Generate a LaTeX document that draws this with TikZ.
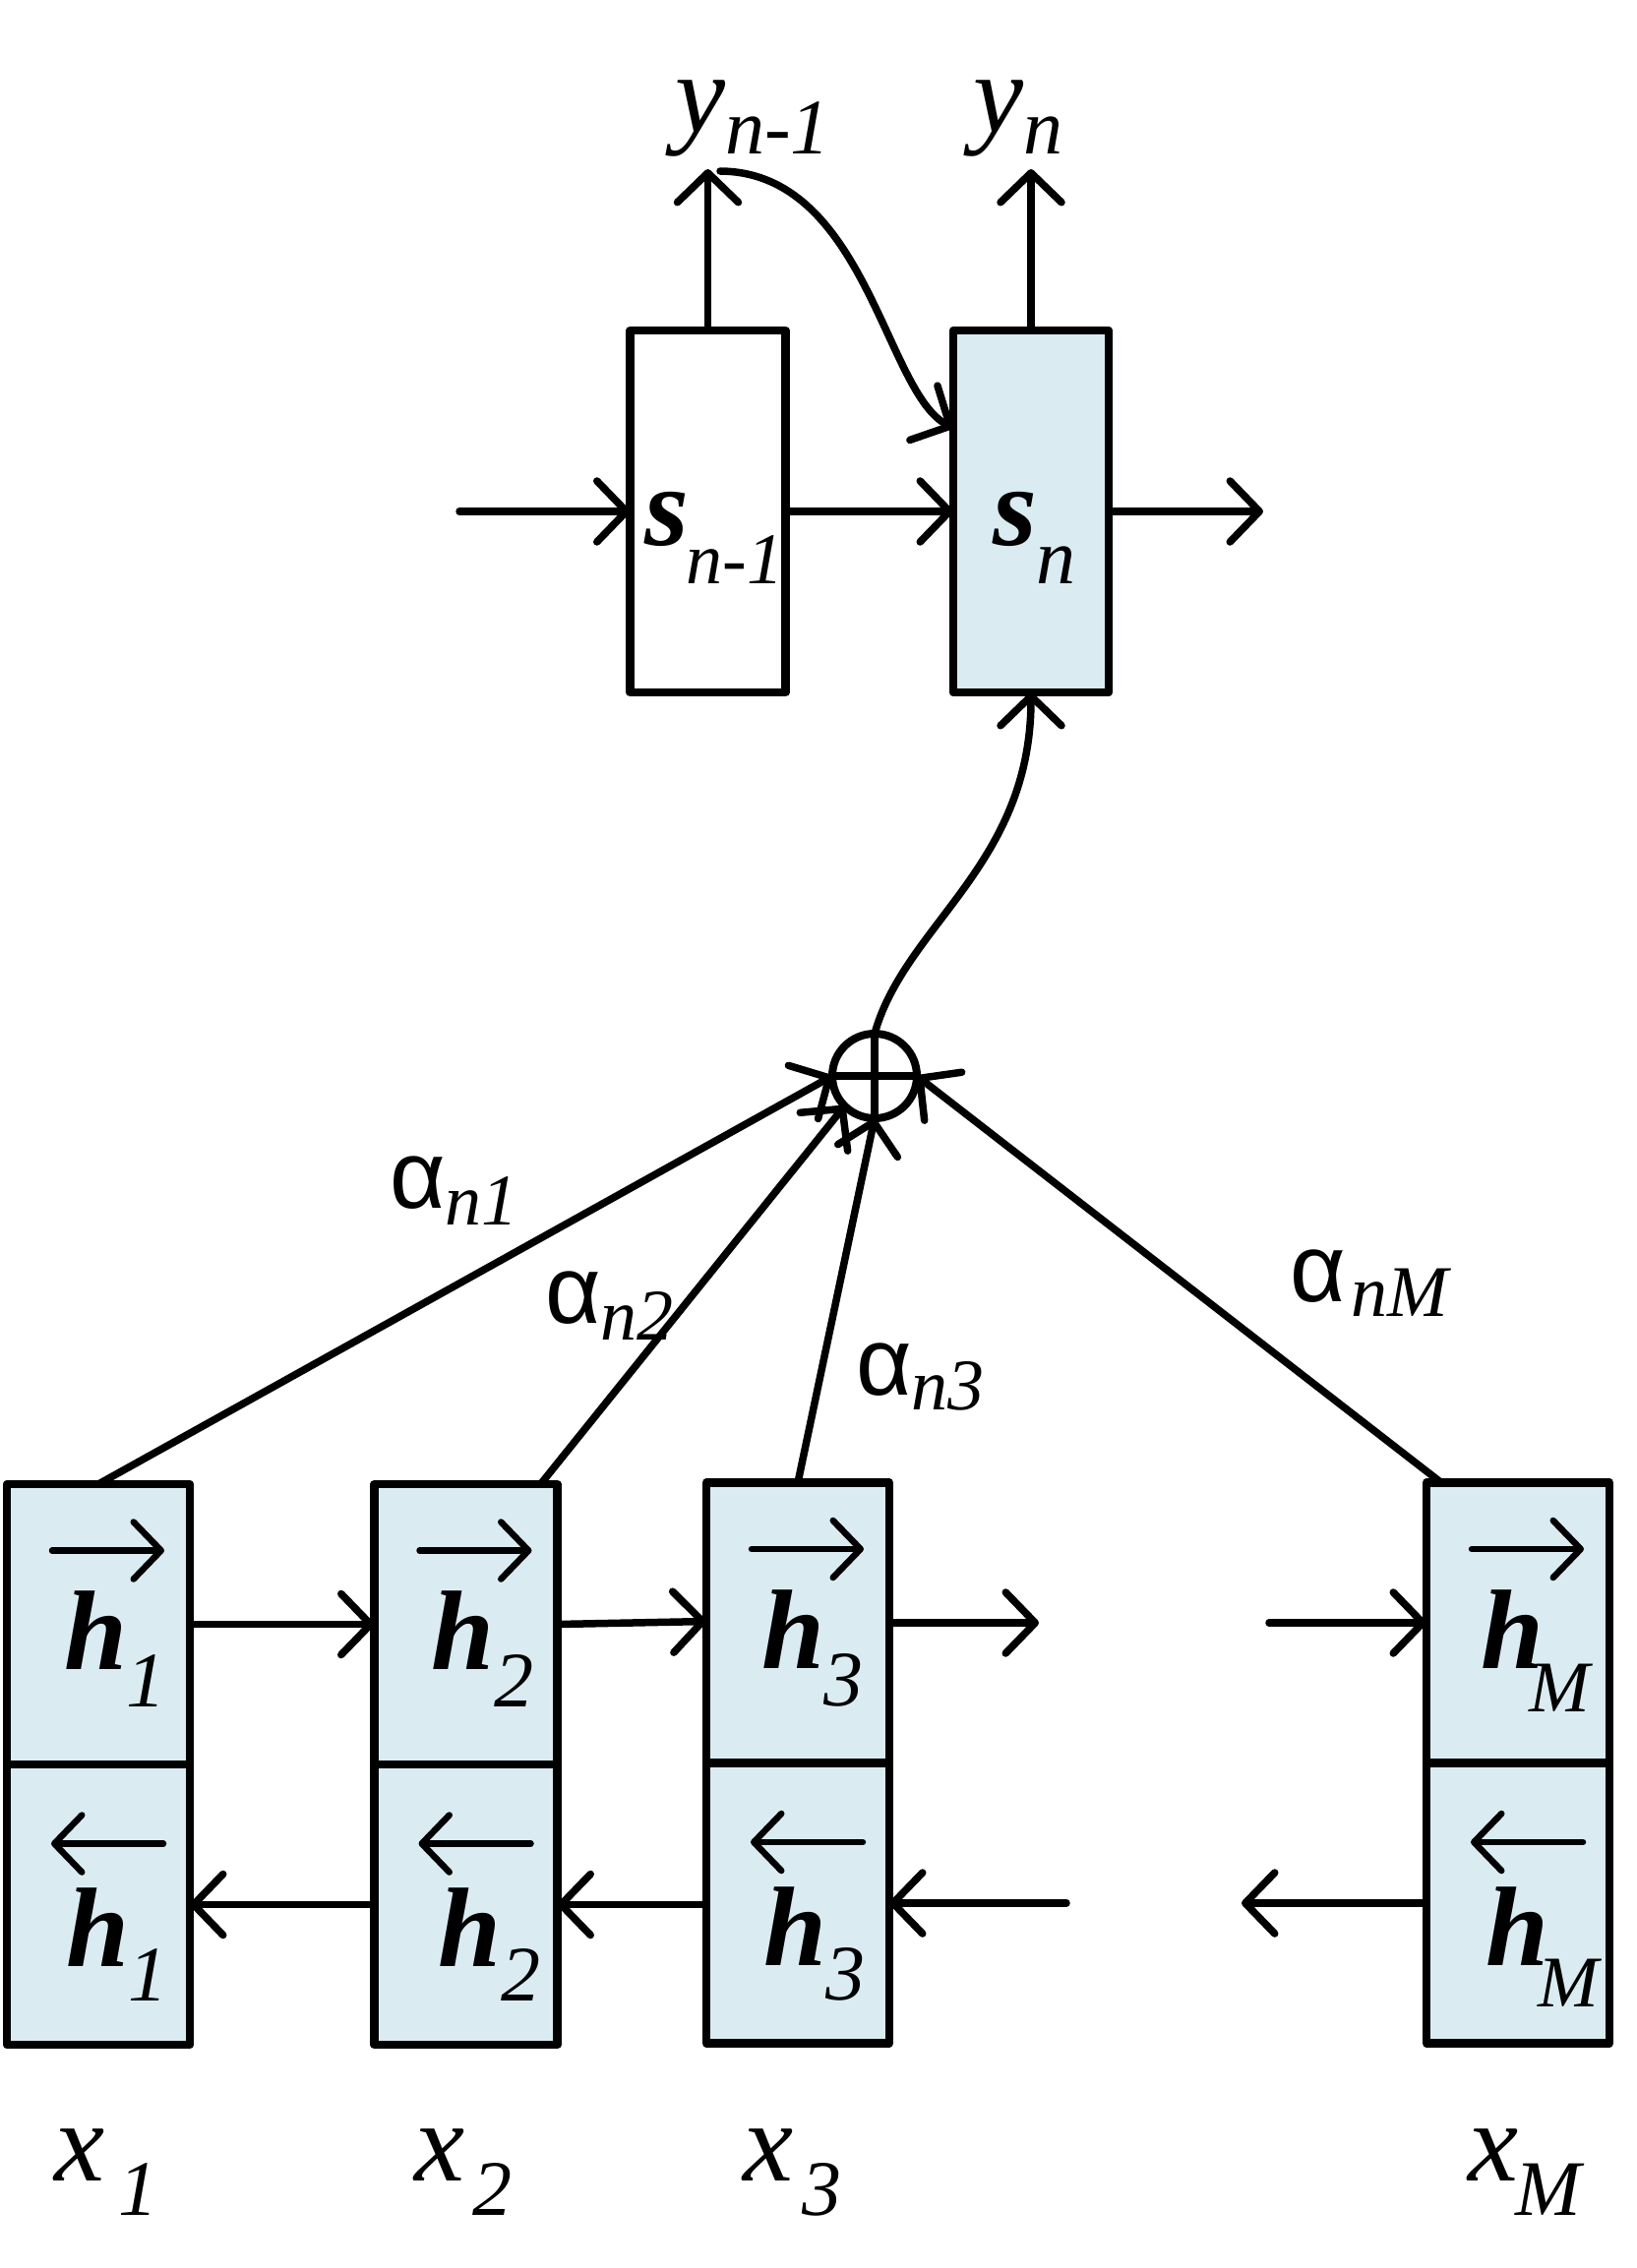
\documentclass[tikz,border=0pt]{standalone}
\usepackage{fontspec}
\setmainfont{Liberation Serif}
\newfontfamily\alphafont{Liberation Sans}
\usetikzlibrary{arrows.meta,calc}
\definecolor{boxblue}{RGB}{218,236,242}
\newcommand\BigF{\fontsize{115}{115}\selectfont}
\newcommand\SubF{\fontsize{80}{80}\selectfont}
\newcommand\SubS{\fontsize{74}{74}\selectfont}
\newcommand\SubA{\fontsize{74}{74}\selectfont\rmfamily\itshape}
\newcommand\AlF{\fontsize{98}{98}\selectfont\alphafont}
\begin{document}
\begin{tikzpicture}[x=1pt,y=-1pt,
  hbox/.style={draw, line width=8.5pt, line join=round, fill=boxblue, minimum width=186pt, minimum height=285pt, inner sep=0pt, outer sep=0pt},
  sbox/.style={draw, line width=8.5pt, line join=round, minimum width=158pt, minimum height=368pt, inner sep=0pt, outer sep=0pt},
  arr/.style={line width=7.5pt, line cap=round, -{Straight Barb[length=30pt,width=62pt,round]}},
  vec/.style={line width=6.5pt, line cap=round, -{Straight Barb[length=28pt,width=58pt,round]}},
  txt/.style={inner sep=0pt, outer sep=0pt, anchor=base west},
]
\useasboundingbox (0,0) rectangle (1663,2306);

% decoder states
\node[sbox, fill=white] (sp) at (719.5,520) {};
\node[sbox, fill=boxblue] (sn) at (1048,520) {};

% encoder boxes
\node[hbox] (hf1) at (100,1651.5) {};
\node[hbox] (hb1) at (100,1936.5) {};
\node[hbox] (hf2) at (473.5,1651.5) {};
\node[hbox] (hb2) at (473.5,1936.5) {};
\node[hbox] (hf3) at (811,1650) {};
\node[hbox] (hb3) at (811,1935) {};
\node[hbox] (hfM) at (1543,1650) {};
\node[hbox] (hbM) at (1543,1935) {};

% sum node
\node[draw, circle, line width=8pt, minimum size=86pt, inner sep=0pt, outer sep=0pt] (sum) at (889,1094) {};
\draw[line width=7.5pt] (sum.north) -- (sum.south) (sum.west) -- (sum.east);

% free ends
\coordinate (yt1) at (719.5,172);
\coordinate (yt2) at (1048,172);
\coordinate (cs) at (732,174);
\coordinate (lin) at (467,520);
\coordinate (rout) at (1284,520);
\coordinate (fe3) at (1056,1650);
\coordinate (fsM) at (1290,1650);
\coordinate (bs3) at (1084,1935);
\coordinate (beM) at (1262,1935);

% top arrows
\draw[arr] (sp.north) -- (yt1);
\draw[arr] (sn.north) -- (yt2);
\draw[arr] (cs) .. controls (880,175) and (900,400) .. ([yshift=85pt]sn.west);
\draw[arr] (lin) -- (sp.west);
\draw[arr] (sp.east) -- (sn.west);
\draw[arr] (sn.east) -- (rout);
\draw[arr] (sum.north) .. controls (920,940) and (1048,880) .. (sn.south);

% encoder arrows
\draw[arr] (hf1.east) -- (hf2.west);
\draw[arr] (hf2.east) -- ([yshift=1.5pt]hf3.west);
\draw[arr] (hf3.east) -- (fe3);
\draw[arr] (fsM) -- (hfM.west);
\draw[arr] (hb2.west) -- (hb1.east);
\draw[arr] ([yshift=-1.5pt]hb3.west) -- (hb2.east);
\draw[arr] (bs3) -- (hb3.east);
\draw[arr] (hbM.west) -- (beM);

% attention arrows
\draw[arr] (hf1.north) -- (sum.west);
\draw[arr] ([xshift=-17pt]hf2.north east) -- (sum.south west);
\draw[arr] (hf3.north) -- (sum.south);
\draw[arr] ([xshift=15pt]hfM.north west) -- (sum.east);

% vector arrows over h
\foreach \b in {hf1,hf2,hf3,hfM}{
  \draw[vec] ([xshift=-47pt,yshift=75pt]\b.center) -- ([xshift=67pt,yshift=75pt]\b.center);
}
\foreach \b in {hb1,hb2,hb3,hbM}{
  \draw[vec] ([xshift=66pt,yshift=62pt]\b.center) -- ([xshift=-48pt,yshift=62pt]\b.center);
}

% labels
\node[txt] (ylabA) at (686,135) {\BigF\itshape y\raisebox{-22pt}{\SubF n-1}};
\node[txt] (ylabB) at (989,135) {\BigF\itshape y\raisebox{-22pt}{\SubF n}};
\node[txt] (slabA) at (655,554) {\BigF\bfseries\itshape s\hspace{-2pt}\raisebox{-39pt}{\SubS\mdseries n-1}};
\node[txt] (slabB) at (1009,554) {\BigF\bfseries\itshape s\raisebox{-39pt}{\SubF\mdseries n}};

\node[txt] (lhf1) at ($(hf1.center)+(-35,46)$) {\BigF\bfseries\itshape h\raisebox{-38pt}{\SubF\mdseries 1}};
\node[txt] (lhf2) at ($(hf2.center)+(-35,46)$) {\BigF\bfseries\itshape h\raisebox{-38pt}{\SubF\mdseries 2}};
\node[txt] (lhf3) at ($(hf3.center)+(-37,46)$) {\BigF\bfseries\itshape h\raisebox{-38pt}{\SubF\mdseries 3}};
\node[txt] (lhfM) at ($(hfM.center)+(-38,46)$) {\BigF\bfseries\itshape h\hspace{-14pt}\raisebox{-44pt}{\SubS\mdseries M}};
\node[txt] (lhb1) at ($(hb1.center)+(-33,63)$) {\BigF\bfseries\itshape h\raisebox{-35pt}{\SubF\mdseries 1}};
\node[txt] (lhb2) at ($(hb2.center)+(-28,63)$) {\BigF\bfseries\itshape h\raisebox{-35pt}{\SubF\mdseries 2}};
\node[txt] (lhb3) at ($(hb3.center)+(-35,63)$) {\BigF\bfseries\itshape h\raisebox{-35pt}{\SubF\mdseries 3}};
\node[txt] (lhbM) at ($(hbM.center)+(-33,63)$) {\BigF\bfseries\itshape h\hspace{-10pt}\raisebox{-42pt}{\SubS\mdseries M}};

\node[txt] (an1) at (396,1228) {\AlF α\raisebox{-17pt}{\SubA n1}};
\node[txt] (an2) at (554,1345) {\AlF α\raisebox{-17pt}{\SubA n2}};
\node[txt] (an3) at (870,1418) {\AlF α\raisebox{-15pt}{\SubA n3}};
\node[txt] (anM) at (1311,1323) {\AlF α\hspace{6pt}\raisebox{-15pt}{\SubA nM}};

\node[txt] (xl1) at (55,2217) {\BigF\itshape x\hspace{14pt}\raisebox{-35pt}{\SubF 1}};
\node[txt] (xl2) at (421,2217) {\BigF\itshape x\hspace{8pt}\raisebox{-35pt}{\SubF 2}};
\node[txt] (xl3) at (755,2217) {\BigF\itshape x\hspace{9pt}\raisebox{-35pt}{\SubF 3}};
\node[txt] (xlM) at (1492,2217) {\BigF\itshape x\hspace{-3pt}\raisebox{-35pt}{\SubF M}};
\end{tikzpicture}
\end{document}
